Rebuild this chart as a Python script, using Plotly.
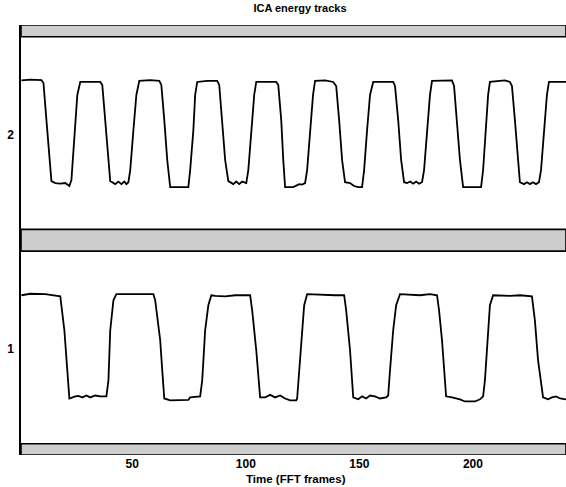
# ICA energy tracks: two separated source energy envelopes stacked on one axis

import plotly.graph_objects as go

# track 1 (lower): frame number and plotted level
track1_t = [1.2, 5.1, 11.7, 16.1, 18.3, 20.1, 21.4, 22.3, 24.9, 26.3, 28.0, 29.8, 31.5, 33.7,
            35.9, 38.6, 39.5, 40.3, 41.7, 43.0, 49.1, 55.7, 59.3, 60.1, 62.3, 63.2, 64.1,
            66.7, 71.1, 74.7, 75.5, 79.9, 80.8, 82.1, 83.5, 84.8, 86.5, 90.9, 95.3, 101.9,
            102.8, 104.6, 106.3, 108.5, 110.7, 112.9, 115.1, 117.3, 119.5, 122.2, 122.6,
            123.5, 124.8, 125.7, 127.0, 132.7, 139.3, 143.3, 144.2, 145.9, 147.3, 149.5,
            151.2, 153.0, 154.7, 156.9, 159.1, 161.8, 162.7, 163.5, 164.9, 166.2, 167.9,
            176.7, 181.1, 184.2, 185.1, 186.4, 188.2, 190.8, 194.3, 196.5, 200.9, 203.1,
            204.5, 205.3, 206.7, 207.5, 208.9, 216.3, 220.7, 226.0, 227.3, 228.7, 230.9,
            233.1, 234.8, 236.6, 238.4, 241.0]
track1_v = [1.249, 1.256, 1.254, 1.249, 1.244, 1.085, 0.897, 0.765, 0.775, 0.777, 0.770, 0.779,
            0.770, 0.779, 0.775, 0.775, 0.850, 1.085, 1.225, 1.254, 1.254, 1.256, 1.254, 1.225,
            1.038, 0.897, 0.765, 0.756, 0.756, 0.758, 0.770, 0.775, 0.850, 1.085, 1.202, 1.249,
            1.246, 1.244, 1.249, 1.249, 1.178, 0.991, 0.770, 0.770, 0.782, 0.770, 0.779, 0.765,
            0.756, 0.756, 0.765, 0.897, 1.085, 1.202, 1.254, 1.251, 1.249, 1.249, 1.178, 0.991,
            0.770, 0.761, 0.775, 0.765, 0.779, 0.775, 0.765, 0.770, 0.779, 0.897, 1.085, 1.202,
            1.254, 1.249, 1.254, 1.249, 1.178, 1.038, 0.775, 0.770, 0.761, 0.751, 0.751, 0.761,
            0.775, 0.850, 1.085, 1.202, 1.249, 1.246, 1.249, 1.244, 1.131, 0.944, 0.770, 0.761,
            0.770, 0.775, 0.765, 0.761]

# track 2 (upper)
track2_t = [1.2, 5.1, 10.0, 10.9, 12.2, 13.5, 14.4, 16.1, 18.3, 20.5, 22.3, 23.2, 24.5, 25.8,
            27.1, 32.4, 35.9, 36.8, 38.1, 39.5, 40.3, 41.2, 42.5, 43.9, 45.2, 46.5, 47.4, 48.3,
            49.1, 50.5, 51.8, 53.1, 57.9, 61.9, 62.8, 64.1, 65.4, 66.7, 74.7, 75.5, 76.9, 77.7,
            78.6, 83.0, 87.4, 88.3, 89.6, 90.9, 92.3, 93.1, 94.5, 95.8, 97.1, 98.4, 100.2,
            101.1, 102.4, 103.7, 104.6, 108.9, 113.4, 114.3, 115.6, 116.5, 117.3, 120.9, 122.2,
            123.5, 124.8, 126.1, 127.0, 128.3, 129.6, 130.5, 134.9, 138.5, 139.8, 141.1, 142.4,
            143.7, 145.9, 147.7, 149.5, 151.2, 152.1, 153.4, 154.7, 156.1, 160.5, 164.9, 165.7,
            167.1, 168.4, 169.7, 171.0, 172.4, 173.7, 175.0, 176.3, 177.6, 178.5, 179.8, 181.1,
            182.0, 185.5, 188.2, 190.8, 191.7, 193.0, 194.3, 195.7, 203.6, 204.5, 205.8, 206.7,
            207.5, 211.9, 214.1, 216.3, 217.2, 218.5, 219.9, 220.7, 222.5, 223.8, 225.1, 226.5,
            227.8, 229.1, 230.0, 231.3, 232.6, 233.5, 241.0]
track2_v = [2.256, 2.260, 2.258, 2.244, 2.070, 1.883, 1.784, 1.775, 1.772, 1.775, 1.761, 1.789,
            2.000, 2.188, 2.249, 2.249, 2.249, 2.235, 2.070, 1.883, 1.784, 1.779, 1.770, 1.782,
            1.770, 1.782, 1.770, 1.779, 1.836, 2.023, 2.188, 2.254, 2.258, 2.254, 2.235, 2.070,
            1.883, 1.756, 1.756, 1.836, 2.023, 2.188, 2.249, 2.254, 2.254, 2.235, 2.070, 1.883,
            1.784, 1.779, 1.770, 1.782, 1.770, 1.782, 1.775, 1.836, 2.023, 2.188, 2.249, 2.249,
            2.249, 2.235, 2.070, 1.883, 1.756, 1.756, 1.765, 1.770, 1.768, 1.775, 1.836, 2.023,
            2.188, 2.254, 2.256, 2.249, 2.230, 2.070, 1.883, 1.779, 1.775, 1.761, 1.756, 1.756,
            1.836, 2.023, 2.188, 2.249, 2.249, 2.249, 2.230, 2.070, 1.883, 1.779, 1.775, 1.782,
            1.772, 1.782, 1.772, 1.779, 1.836, 2.023, 2.188, 2.254, 2.256, 2.254, 2.256, 2.230,
            2.070, 1.883, 1.756, 1.756, 1.836, 2.023, 2.188, 2.249, 2.254, 2.256, 2.249, 2.230,
            2.070, 1.883, 1.779, 1.770, 1.779, 1.770, 1.779, 1.770, 1.779, 1.836, 2.023, 2.188,
            2.249, 2.249]

track_ticks = [1, 2]
time_ticks = [50, 100, 150, 200]
# shaded separator bands (lower, upper level)
bands = [(0.50, 0.553), (1.456, 1.558), (2.461, 2.516)]

fig = go.Figure()

for t, v in [(track1_t, track1_v), (track2_t, track2_v)]:
    fig.add_trace(go.Scatter(x=t, y=v, mode="lines",
                             line=dict(color="black", width=1.8),
                             showlegend=False, hoverinfo="skip"))

for lo, hi in bands:
    fig.add_shape(type="rect", xref="paper", x0=0, x1=1, yref="y", y0=lo, y1=hi,
                  fillcolor="#cdcdcd", line=dict(color="black", width=1.6), layer="above")

fig.update_layout(
    width=566, height=487, autosize=False,
    margin=dict(l=21, r=0, t=25, b=32),
    paper_bgcolor="white", plot_bgcolor="white",
    font=dict(family="Liberation Sans, Arial, sans-serif", color="black", size=12),
    title=dict(text="<b>ICA energy tracks</b>", x=0.53, xanchor="center",
               y=1 - 8 / 487, yanchor="middle", font=dict(size=11)),
    xaxis=dict(range=[1, 241], tickvals=time_ticks, ticks="", showgrid=False,
               zeroline=False, showline=False,
               tickfont=dict(size=12, weight="bold")),
    yaxis=dict(range=[0.5, 2.516], tickvals=track_ticks, ticks="", showgrid=False,
               zeroline=False, showline=True, linecolor="black", linewidth=1.5,
               tickfont=dict(size=12, weight="bold"), ticklabelstandoff=3),
    annotations=[dict(text="<b>Time (FFT frames)</b>", xref="paper", yref="paper",
                      x=0.505, y=-24 / 430, xanchor="center", yanchor="middle",
                      showarrow=False, font=dict(size=11.5))],
)

# drop the page's default body margin so the 566x487 figure fills the window
fig.write_html("out.html", config={"displayModeBar": False},
               post_script="document.body.style.margin='0';document.body.style.overflow='hidden';")
